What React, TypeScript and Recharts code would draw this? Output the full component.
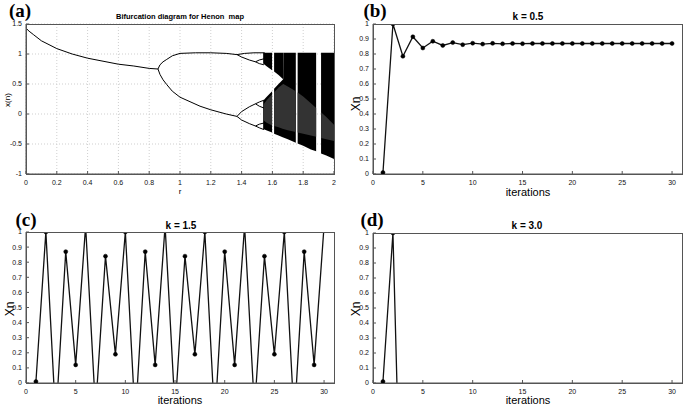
import React from 'react';
import { ComposedChart, LineChart, Line, Area, XAxis, YAxis, CartesianGrid } from 'recharts';

// (a) bifurcation diagram as [r, x(n)] pairs
const fixedBranch = [[0, 1.43], [0.02, 1.38], [0.05, 1.32], [0.1, 1.22], [0.2, 1.09], [0.3, 1.0], [0.4, 0.93], [0.5, 0.88], [0.6, 0.83], [0.7, 0.8], [0.8, 0.76], [0.857, 0.75]];
const period2Upper = [[0.857, 0.75], [0.87, 0.82], [0.89, 0.87], [0.914, 0.91], [0.95, 0.97], [1.0, 1.01], [1.1, 1.02], [1.2, 1.02], [1.3, 1.01], [1.37, 0.99]];
const period2Lower = [[0.857, 0.75], [0.87, 0.66], [0.89, 0.57], [0.914, 0.49], [0.95, 0.38], [1.0, 0.28], [1.13, 0.13], [1.2, 0.07], [1.3, 0.0], [1.37, -0.04]];
const period4UU = [[1.37, 0.99], [1.42, 1.01], [1.48, 1.02], [1.55, 1.02]];
const period4UL = [[1.37, 0.99], [1.4, 0.95], [1.45, 0.9], [1.49, 0.87]];
const period4LU = [[1.37, -0.04], [1.4, 0.04], [1.45, 0.12], [1.49, 0.17]];
const period4LL = [[1.37, -0.04], [1.4, -0.1], [1.45, -0.16], [1.49, -0.2]];
const period8 = [
  [[1.49, 0.87], [1.515, 0.9], [1.545, 0.92]],
  [[1.49, 0.87], [1.515, 0.84], [1.545, 0.82]],
  [[1.49, 0.17], [1.515, 0.2], [1.545, 0.23]],
  [[1.49, 0.17], [1.515, 0.13], [1.545, 0.1]],
  [[1.49, -0.2], [1.515, -0.17], [1.545, -0.15]],
  [[1.49, -0.2], [1.515, -0.23], [1.545, -0.26]],
];

// chaotic band, null = periodic window (white gap)
const chaosR = [1.54, 1.56, 1.598, 1.604, 1.611, 1.64, 1.67, 1.671, 1.7, 1.752, 1.758, 1.764, 1.8, 1.85, 1.884, 1.9, 1.916, 1.95, 2.0];
const chaosBottom = [-0.25, -0.27, -0.31, null, -0.33, -0.36, -0.39, -0.39, -0.42, -0.48, null, -0.49, -0.53, -0.59, -0.62, null, -0.66, -0.69, -0.75];
const chaosTop = [0.22, 0.28, 0.38, null, 0.42, 0.5, 0.58, 1.02, 1.02, 1.02, null, 1.02, 1.02, 1.02, 1.02, null, 1.02, 1.02, 1.02];
const upperBandTop = [1.02, 1.02, 1.02, null, 1.02, 1.02, 1.02, null, null, null, null, null, null, null, null, null, null, null, null];
const upperBandBottom = [0.84, 0.8, 0.73, null, 0.71, 0.65, 0.58, null, null, null, null, null, null, null, null, null, null, null, null];
const speckleTop = [0.15, 0.22, 0.33, null, 0.36, 0.44, 0.5, 0.5, 0.46, 0.38, null, 0.36, 0.29, 0.18, 0.1, null, 0.03, -0.05, -0.18];
const speckleBottom = [-0.1, -0.14, -0.19, null, -0.2, -0.22, -0.25, -0.25, -0.27, -0.3, null, -0.31, -0.33, -0.36, -0.38, null, -0.4, -0.42, -0.45];

const rTicks = [0, 0.2, 0.4, 0.6, 0.8, 1, 1.2, 1.4, 1.6, 1.8, 2];
const xnTicksA = [-1, -0.5, 0, 0.5, 1, 1.5];

// (b)-(d) iterations
const iterations = [1, 2, 3, 4, 5, 6, 7, 8, 9, 10, 11, 12, 13, 14, 15, 16, 17, 18, 19, 20, 21, 22, 23, 24, 25, 26, 27, 28, 29, 30];
const xnK05 = [0.01, 1.0, 0.785, 0.915, 0.84, 0.885, 0.857, 0.876, 0.862, 0.872, 0.866, 0.871, 0.868, 0.87, 0.869, 0.87, 0.87, 0.87, 0.87, 0.87, 0.87, 0.87, 0.87, 0.87, 0.87, 0.87, 0.87, 0.87, 0.87, 0.87];
const xnK15 = [0.01, 1.0, -0.25, 0.87, 0.12, 1.04, -0.18, 0.84, 0.19, 1.0, -0.25, 0.87, 0.12, 1.04, -0.18, 0.84, 0.19, 1.0, -0.25, 0.87, 0.12, 1.04, -0.18, 0.84, 0.19, 1.0, -0.25, 0.87, 0.12, 1.04];
const xnK30 = [0.01, 1.0, -1.5];
const iterTicks = [0, 5, 10, 15, 20, 25, 30];
const xnTicks = [0, 0.1, 0.2, 0.3, 0.4, 0.5, 0.6, 0.7, 0.8, 0.9, 1];

const FRAME = '#555';
const tickFont = { fontSize: 7, fill: '#111', fontFamily: 'Liberation Sans, Arial, sans-serif' };

const toPts = (arr: number[][]) => arr.map(([r, x]) => ({ r, x }));
const range = (lo: number | null, hi: number | null) => (lo == null || hi == null ? null : [lo, hi]);

const chaosData = chaosR.map((r, i) => ({
  r,
  lower: range(chaosBottom[i], chaosTop[i]),
  upper: range(upperBandBottom[i], upperBandTop[i]),
  speckle: range(speckleBottom[i], speckleTop[i]),
}));

const branches = [fixedBranch, period2Upper, period2Lower, period4UU, period4UL, period4LU, period4LL, ...period8];

function Txt({ x, y, size, bold, rotate, serif, children }: any) {
  return (
    <div
      style={{
        position: 'absolute', left: x, top: y, fontSize: size, lineHeight: 1,
        fontWeight: bold ? 'bold' : 'normal', whiteSpace: 'pre', color: '#000',
        fontFamily: serif ? 'Liberation Serif, Times New Roman, serif' : 'Liberation Sans, Arial, sans-serif',
        transform: `translate(-50%, -50%)${rotate ? ' rotate(-90deg)' : ''}`,
      }}
    >
      {children}
    </div>
  );
}

// the axes box around the plot area (page coords)
function BoxEdge({ left, top, width, height }: any) {
  return (
    <div style={{
      position: 'absolute', left: left - 0.5, top: top - 0.5, width: width + 1, height: height + 1,
      boxSizing: 'border-box', border: `1px solid ${FRAME}`, pointerEvents: 'none', zIndex: 5,
    }} />
  );
}

function frameAxes(xDomain: number[], xTicks: number[], yDomain: number[], yTicks: number[], xH: number, yW: number) {
  return [
    <XAxis key="xb" dataKey="r" type="number" domain={xDomain} ticks={xTicks} allowDataOverflow height={xH}
      stroke={FRAME} tick={tickFont} tickSize={-3} tickMargin={9} interval={0} />,
    <YAxis key="yl" type="number" domain={yDomain} ticks={yTicks} allowDataOverflow width={yW}
      stroke={FRAME} tick={tickFont} tickSize={-3} tickMargin={7} interval={0} />,
  ];
}

function IterPanel({ values, left, top, width, height, marginTop, marginRight, yW, xH }: any) {
  const data = iterations.slice(0, values.length).map((n, i) => ({ r: n, xn: values[i] }));
  return (
    <div style={{ position: 'absolute', left, top, width, height }}>
      <LineChart width={width} height={height} data={data} margin={{ top: marginTop, right: marginRight, bottom: 0, left: 0 }}>
        {frameAxes([0, 31], iterTicks, [0, 1], xnTicks, xH, yW)}
        <Line type="linear" dataKey="xn" stroke="#111" strokeWidth={1.3} isAnimationActive={false}
          dot={{ r: 2, fill: '#000', stroke: '#000', strokeWidth: 0.5 }} />
      </LineChart>
    </div>
  );
}

export default function App() {
  return (
    <div style={{ position: 'absolute', left: 0, top: 0, width: 685, height: 406, background: '#fff' }}>
      <div style={{ position: 'absolute', left: 0, top: 0, width: 345, height: 200 }}>
        <ComposedChart width={345} height={200} data={chaosData} margin={{ top: 24, right: 11, bottom: 0, left: 0 }}>
          <CartesianGrid stroke="#cfcfcf" strokeDasharray="1 2" />
          {frameAxes([0, 2], rTicks, [-1, 1.5], xnTicksA, 26, 26)}
          <Area type="linear" dataKey="lower" stroke="none" fill="#000" fillOpacity={1} isAnimationActive={false} />
          <Area type="linear" dataKey="upper" stroke="none" fill="#000" fillOpacity={1} isAnimationActive={false} />
          <Area type="linear" dataKey="speckle" stroke="none" fill="#333" fillOpacity={1} isAnimationActive={false} />
          {branches.map((b, i) => (
            <Line key={i} data={toPts(b)} dataKey="x" type="linear" stroke="#000" strokeWidth={1}
              dot={false} isAnimationActive={false} />
          ))}
        </ComposedChart>
      </div>
      <IterPanel values={xnK05} left={345} top={0} width={340} height={200} marginTop={24} marginRight={3} yW={28} xH={26} />
      <IterPanel values={xnK15} left={0} top={200} width={345} height={206} marginTop={32} marginRight={11} yW={26} xH={23} />
      <IterPanel values={xnK30} left={345} top={200} width={340} height={206} marginTop={33} marginRight={3} yW={28} xH={23} />

      <BoxEdge left={26} top={24} width={308} height={150} />
      <BoxEdge left={373} top={24} width={309} height={150} />
      <BoxEdge left={26} top={232} width={308} height={151} />
      <BoxEdge left={373} top={233} width={309} height={150} />

      <Txt x={20} y={10} size={19} bold serif>(a)</Txt>
      <Txt x={375} y={10} size={19} bold serif>(b)</Txt>
      <Txt x={26} y={219} size={19} bold serif>(c)</Txt>
      <Txt x={372} y={219} size={19} bold serif>(d)</Txt>

      <Txt x={180} y={17} size={7.5} bold>{'Bifurcation diagram for Henon  map'}</Txt>
      <Txt x={528} y={17} size={10} bold>k = 0.5</Txt>
      <Txt x={181} y={226} size={10} bold>k = 1.5</Txt>
      <Txt x={527} y={226} size={10} bold>k = 3.0</Txt>

      <Txt x={8} y={100} size={8} rotate>x(n)</Txt>
      <Txt x={180} y={192} size={8}>r</Txt>
      <Txt x={356} y={104} size={12} rotate>Xn</Txt>
      <Txt x={528} y={192} size={11}>iterations</Txt>
      <Txt x={10} y={309} size={12} rotate>Xn</Txt>
      <Txt x={180} y={400} size={11}>iterations</Txt>
      <Txt x={356} y={309} size={12} rotate>Xn</Txt>
      <Txt x={528} y={400} size={11}>iterations</Txt>
    </div>
  );
}
